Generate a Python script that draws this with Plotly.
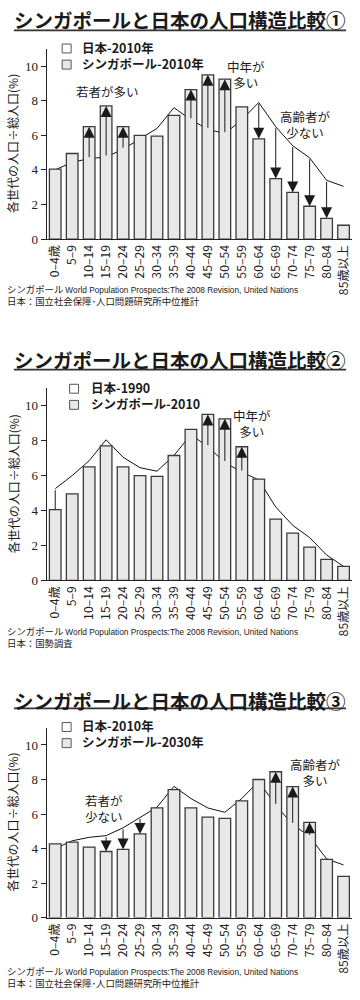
import plotly.graph_objects as go

# ---------------- data ----------------
age_labels = ["0–4歳", "5–9", "10–14", "15–19", "20–24", "25–29", "30–34", "35–39",
              "40–44", "45–49", "50–54", "55–59", "60–64", "65–69", "70–74", "75–79",
              "80–84", "85歳以上"]
singapore_2010 = [4.05, 4.95, 6.5, 7.7, 6.5, 6.0, 5.95, 7.15, 8.65, 9.5, 9.25, 7.65,
                  5.8, 3.5, 2.7, 1.9, 1.2, 0.8]
singapore_2030 = [4.27, 4.37, 4.08, 3.83, 3.95, 4.85, 6.36, 7.41, 6.36, 5.82, 5.75, 6.76,
                  8.0, 8.45, 7.59, 5.52, 3.37, 2.39]
japan_2010 = [4.0, 4.45, 4.65, 4.75, 5.2, 5.8, 6.4, 7.6, 6.9, 6.35, 6.1, 6.9,
              7.9, 6.5, 5.4, 4.7, 3.4, 3.05]
japan_1990 = [5.25, 6.0, 6.85, 8.05, 7.05, 6.45, 6.25, 7.15, 8.35, 7.65, 6.75, 6.2,
              5.75, 4.2, 3.15, 2.45, 1.45, 0.8]
y_ticks = [0, 2, 4, 6, 8, 10]

panel1_arrow_groups = ["10–14", "15–19", "20–24", "40–44", "45–49", "50–54",
                       "60–64", "65–69", "70–74", "75–79", "80–84"]
panel2_arrow_groups = ["45–49", "50–54", "55–59"]
panel3_arrow_groups = ["15–19", "20–24", "25–29", "65–69", "70–74", "75–79"]

src_sg = ("シンガポール <span style='font-family:Liberation Sans;font-size:8.3px'>"
          "World Population Prospects:The 2008 Revision, United Nations</span>")
src_jp_ipss = "日本：国立社会保障･人口問題研究所中位推計"
src_jp_census = "日本：国勢調査"

# ---------------- layout helpers ----------------
W, H = 360, 1000
def fx(p):
    return p / W
def fy(p):
    return 1 - p / H

FONT_JP = "Noto Sans CJK JP"
X_DOMAIN = [45 / W, 352 / W]
Y_RANGE = [0, 11]
LEG_SIZE = 12.5
LEG_STEP = 1.3 * LEG_SIZE

panels = [
    dict(title="シンガポールと日本の人口構造比較①", title_y=19.5, ul_y=30.7,
         leg=("日本-2010年", "シンガポール-2010年"), leg_c=55.5, sq_x=65, text_x=78,
         top=49.3, bottom=241, src=(src_sg, src_jp_ipss), src_y=297,
         jp=japan_2010, sg=singapore_2010,
         arrows=panel1_arrow_groups, connectors=[],
         notes=[("若者が多い", 106, 92), ("中年が<br>多い", 245, 75),
                ("高齢者が<br>少ない", 305, 126)]),
    dict(title="シンガポールと日本の人口構造比較②", title_y=362.5, ul_y=372.7,
         leg=("日本-1990", "シンガポール-2010"), leg_c=398.5, sq_x=72.5, text_x=87,
         top=391.4, bottom=585, src=(src_sg, src_jp_census), src_y=642,
         jp=japan_1990, sg=singapore_2010,
         arrows=panel2_arrow_groups, connectors=["0–4歳"],
         notes=[("中年が<br>多い", 251, 427)]),
    dict(title="シンガポールと日本の人口構造比較③", title_y=705.7, ul_y=714,
         leg=("日本-2010年", "シンガポール-2030年"), leg_c=739.5, sq_x=65, text_x=78,
         top=733.6, bottom=925, src=(src_sg, src_jp_ipss), src_y=985,
         jp=japan_2010, sg=singapore_2030,
         arrows=panel3_arrow_groups, connectors=[],
         notes=[("若者が<br>少ない", 103, 815), ("高齢者が<br>多い", 315, 779)]),
]

fig = go.Figure()
annotations = []
shapes = []
x_idx = list(range(len(age_labels)))

for k, p in enumerate(panels, start=1):
    xa = "x" if k == 1 else f"x{k}"
    ya = "y" if k == 1 else f"y{k}"
    yb = f"y{k + 3}"
    dom_y = [fy(p["bottom"]), fy(p["top"])]

    # Japan line (drawn on base axis, below the bars)
    fig.add_trace(go.Scatter(x=x_idx, y=p["jp"], mode="lines", xaxis=xa, yaxis=ya,
                             line=dict(color="#111111", width=1), showlegend=False,
                             hoverinfo="skip"))
    # Singapore bars (overlay axis, on top of the line)
    fig.add_trace(go.Bar(x=x_idx, y=p["sg"], xaxis=xa, yaxis=yb,
                         marker=dict(color="#e8e8e8", line=dict(color="#3a3a3a", width=1.3)),
                         showlegend=False, hoverinfo="skip"))

    xkey = "xaxis" if k == 1 else f"xaxis{k}"
    ykey = "yaxis" if k == 1 else f"yaxis{k}"
    ybkey = f"yaxis{k + 3}"
    fig.layout[xkey] = dict(domain=X_DOMAIN, anchor=ya, range=[-0.5, len(age_labels) - 0.5],
                            tickvals=x_idx, ticktext=age_labels, tickangle=-90,
                            showline=True, linecolor="#222", linewidth=1.2,
                            ticks="", showgrid=False, zeroline=False,
                            tickfont=dict(family=FONT_JP, size=12.2, color="#222"))
    fig.layout[ykey] = dict(domain=dom_y, anchor=xa, range=Y_RANGE, tickvals=y_ticks,
                            showline=True, linecolor="#222", linewidth=1.2,
                            ticks="outside", ticklen=5, tickcolor="#222",
                            showgrid=False, zeroline=False,
                            tickfont=dict(family="Liberation Serif", size=13, color="#222"))
    fig.layout[ybkey] = dict(overlaying=ya, anchor=xa, range=Y_RANGE, visible=False,
                             showgrid=False, zeroline=False)

    # comparison arrows: from Japan value to Singapore bar top
    for g in p["arrows"]:
        i = age_labels.index(g)
        annotations.append(dict(x=i, y=p["sg"][i], ax=i, ay=p["jp"][i], xref=xa, yref=ya,
                                axref=xa, ayref=ya, showarrow=True, arrowhead=2,
                                arrowsize=2.2, arrowwidth=1, arrowcolor="#1a1a1a",
                                standoff=0, startstandoff=0, text=""))
    for g in p["connectors"]:
        i = age_labels.index(g)
        annotations.append(dict(x=i, y=p["sg"][i], ax=i, ay=p["jp"][i], xref=xa, yref=ya,
                                axref=xa, ayref=ya, showarrow=True, arrowhead=0,
                                arrowwidth=1, arrowcolor="#1a1a1a", text=""))

    # title + underline
    annotations.append(dict(text="<b>" + p["title"] + "</b>", x=fx(179), y=fy(p["title_y"]),
                            xref="paper", yref="paper", xanchor="center", yanchor="middle",
                            showarrow=False,
                            font=dict(family=FONT_JP, size=19.5, color="#1a1a1a")))
    shapes.append(dict(type="line", xref="paper", yref="paper", x0=fx(12), x1=fx(346),
                       y0=fy(p["ul_y"]), y1=fy(p["ul_y"]), line=dict(color="#333", width=1.8)))

    # legend (custom): two rows of text in one block, squares beside each row
    fills = ["#ffffff", "#e8e8e8"]
    for j in range(2):
        row_y = p["leg_c"] + (j - 0.5) * LEG_STEP
        sq = 4.5
        cy = row_y + 1.5
        shapes.append(dict(type="rect", xref="paper", yref="paper",
                           x0=fx(p["sq_x"] - sq), x1=fx(p["sq_x"] + sq),
                           y0=fy(cy + sq), y1=fy(cy - sq),
                           fillcolor=fills[j], line=dict(color="#555", width=1)))
    annotations.append(dict(text="<br>".join("<b>" + t + "</b>" for t in p["leg"]),
                            x=fx(p["text_x"]), y=fy(p["leg_c"]),
                            xref="paper", yref="paper", xanchor="left", yanchor="middle",
                            align="left", showarrow=False,
                            font=dict(family=FONT_JP, size=LEG_SIZE, color="#1a1a1a")))

    # y-axis title
    annotations.append(dict(text="各世代の人口÷総人口(%)", textangle=-90, x=fx(11),
                            y=fy((p["top"] + p["bottom"]) / 2 - 1), xref="paper", yref="paper",
                            xanchor="center", yanchor="middle", showarrow=False,
                            font=dict(family=FONT_JP, size=12, color="#1a1a1a")))

    # notes
    for txt, nx, ny in p["notes"]:
        annotations.append(dict(text=txt, x=fx(nx), y=fy(ny), xref="paper", yref="paper",
                                xanchor="center", yanchor="middle", showarrow=False,
                                align="center",
                                font=dict(family=FONT_JP, size=12.5, color="#1a1a1a")))

    # sources (two lines in one block)
    annotations.append(dict(text="<br>".join(p["src"]), x=fx(3), y=fy(p["src_y"]),
                            xref="paper", yref="paper", xanchor="left", yanchor="middle",
                            align="left", showarrow=False,
                            font=dict(family=FONT_JP, size=9.4, color="#1a1a1a")))

fig.update_layout(width=W, height=H, margin=dict(l=0, r=0, t=0, b=0),
                  paper_bgcolor="white", plot_bgcolor="white", showlegend=False,
                  bargap=0.315, annotations=annotations, shapes=shapes)

fig.write_html("out.html", config={"displayModeBar": False},
               post_script="document.body.style.margin='0px';")
